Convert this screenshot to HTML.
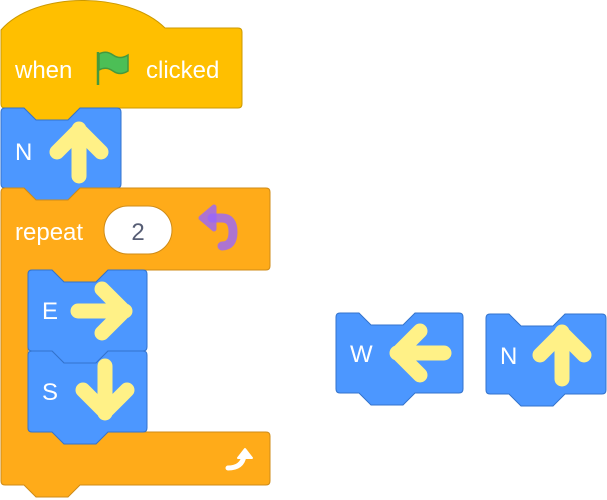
<!DOCTYPE html>
<html><head><style>
html,body{margin:0;padding:0;background:#fff;width:607px;height:500px;overflow:hidden}
svg text{font-family:"Liberation Sans",sans-serif;fill:#fff;font-size:24px}
</style></head><body>
<svg width="607" height="500" viewBox="0 0 607 500" xmlns="http://www.w3.org/2000/svg">
<defs>
<g id="arrowU" fill="none" stroke="#FFF187" stroke-width="15" stroke-linecap="round" stroke-linejoin="round">
<path d="M0,25 L0,-22 M-22,1 L0,-21 L22,1"/>
</g>
</defs>
<path d="M1,30 C35,-9 128,-9 165,28 L238,28 Q242,28 242,32 L242,104 Q242,108 238,108 L80,108 L68,120 L36,120 L24,108 L5,108 Q1,108 1,104 Z" fill="#FFBF00" stroke="#CC9900" stroke-width="1"/>
<text x="15" y="78">when</text>
<g>
<line x1="98" y1="52" x2="98" y2="85" stroke="#45993D" stroke-width="2.5"/>
<path d="M99,54 Q106,50 113,55 Q120,60 128,55 L128,71 Q120,76 113,71 Q106,66 99,70 Z" fill="#4CBF56" stroke="#45993D" stroke-width="1.5"/>
</g>
<text x="146" y="78">clicked</text>
<path d="M1,112 Q1,108 5,108 L24,108 L36,120 L68,120 L80,108 L117,108 Q121,108 121,112 L121,184 Q121,188 117,188 L80,188 L68,200 L36,200 L24,188 L5,188 Q1,188 1,184 Z" fill="#4C97FF" stroke="#3373CC"/>
<text x="15" y="160">N</text>
<use href="#arrowU" transform="translate(79,151)"/>
<path d="M1,192 Q1,188 5,188 L24,188 L36,200 L68,200 L80,188 L266,188 Q270,188 270,192 L270,266 Q270,270 266,270 L108,270 L96,282 L64,282 L52,270 L32,270 Q28,270 28,274 L28,428 Q28,432 32,432 L266,432 Q270,432 270,436 L270,481 Q270,485 266,485 L80,485 L68,497 L36,497 L24,485 L5,485 Q1,485 1,481 Z" fill="#FFAB19" stroke="#CF8B17"/>
<text x="15" y="240">repeat</text>
<rect x="104" y="206" width="68" height="48" rx="24" fill="#fff" stroke="#CF8B17"/>
<text x="138" y="240" text-anchor="middle" style="fill:#575E75">2</text>
<path d="M212,218 L222,218 Q233,218 233,232 Q233,246 222,246" fill="none" stroke="#9966FF" stroke-width="9" stroke-linecap="round" opacity="0.8"/>
<path d="M201,218 L214,207 L214,229 Z" fill="#9966FF" stroke="#9966FF" stroke-width="5" stroke-linejoin="round" opacity="0.8"/>
<path d="M228,468 Q242,468 244,456" fill="none" stroke="#fff" stroke-width="5" stroke-linecap="round"/>
<path d="M238,458 L245,449 L252,458 Z" fill="#fff" stroke="#fff" stroke-width="2" stroke-linejoin="round"/>
<path d="M28,274 Q28,270 32,270 L52,270 L64,282 L96,282 L108,270 L143,270 Q147,270 147,274 L147,347 Q147,351 143,351 L108,351 L96,363 L64,363 L52,351 L32,351 Q28,351 28,347 Z" fill="#4C97FF" stroke="#3373CC"/>
<text x="42" y="319">E</text>
<use href="#arrowU" transform="translate(103,311) rotate(90)"/>
<path d="M28,355 Q28,351 32,351 L52,351 L64,363 L96,363 L108,351 L143,351 Q147,351 147,355 L147,428 Q147,432 143,432 L108,432 L96,444 L64,444 L52,432 L32,432 Q28,432 28,428 Z" fill="#4C97FF" stroke="#3373CC"/>
<text x="42" y="400">S</text>
<use href="#arrowU" transform="translate(105,391) rotate(180)"/>
<path d="M336,317 Q336,313 340,313 L359,313 L371,325 L403,325 L415,313 L459,313 Q463,313 463,317 L463,389 Q463,393 459,393 L415,393 L403,405 L371,405 L359,393 L340,393 Q336,393 336,389 Z" fill="#4C97FF" stroke="#3373CC"/>
<text x="350" y="362">W</text>
<use href="#arrowU" transform="translate(419,353) rotate(-90)"/>
<path d="M486,318 Q486,314 490,314 L509,314 L521,326 L553,326 L565,314 L602,314 Q606,314 606,318 L606,390 Q606,394 602,394 L565,394 L553,406 L521,406 L509,394 L490,394 Q486,394 486,390 Z" fill="#4C97FF" stroke="#3373CC"/>
<text x="500" y="364">N</text>
<use href="#arrowU" transform="translate(562,354)"/>
</svg>
</body></html>
